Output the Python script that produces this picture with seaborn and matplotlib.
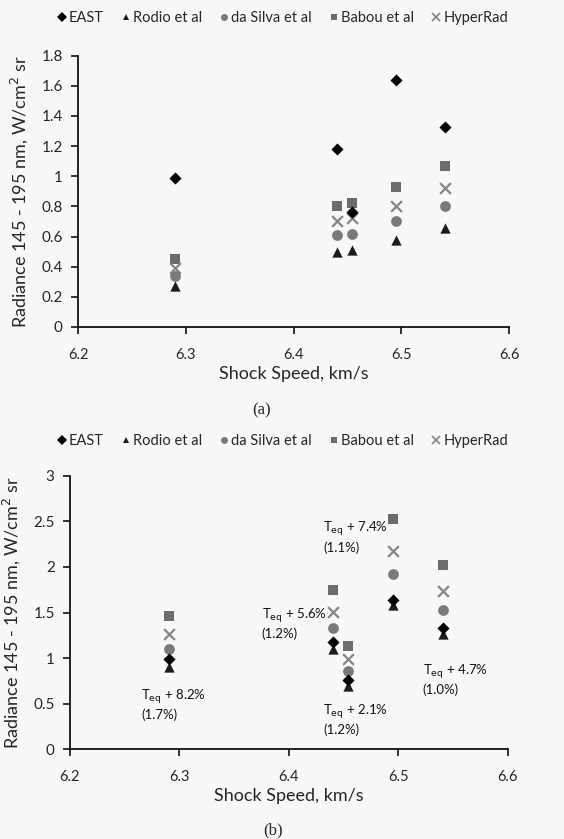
import matplotlib
matplotlib.use("Agg")
import matplotlib.pyplot as plt
import seaborn as sns
import pandas as pd
from matplotlib.lines import Line2D

sns.set_theme(style="white")
plt.rcParams['font.family'] = ['Lato', 'DejaVu Sans']

# ---------------- data ----------------
series = ["EAST", "Rodio et al", "da Silva et al", "Babou et al", "HyperRad"]
speed = [6.29, 6.44, 6.454, 6.495, 6.541]

a_east = [0.99, 1.18, 0.76, 1.64, 1.33]
a_rodio = [0.27, 0.50, 0.51, 0.58, 0.66]
a_dasilva = [0.34, 0.61, 0.62, 0.70, 0.80]
a_babou = [0.45, 0.80, 0.82, 0.93, 1.07]
a_hyper = [0.39, 0.70, 0.72, 0.80, 0.92]

b_east = [0.99, 1.18, 0.76, 1.64, 1.33]
b_rodio = [0.90, 1.10, 0.69, 1.58, 1.26]
b_dasilva = [1.10, 1.33, 0.86, 1.92, 1.53]
b_babou = [1.46, 1.75, 1.13, 2.52, 2.02]
b_hyper = [1.26, 1.51, 0.99, 2.17, 1.74]

annot_text = ["8.2%\n(1.7%)", "5.6%\n(1.2%)", "2.1%\n(1.2%)", "7.4%\n(1.1%)", "4.7%\n(1.0%)"]

x_ticks = [6.2, 6.3, 6.4, 6.5, 6.6]
a_yticks = [0, 0.2, 0.4, 0.6, 0.8, 1, 1.2, 1.4, 1.6, 1.8]
b_yticks = [0, 0.5, 1, 1.5, 2, 2.5, 3]

colors = {"EAST": "#000000", "Rodio et al": "#1c1c1c", "da Silva et al": "#7a7a7a",
          "Babou et al": "#6c6c6c", "HyperRad": "#858585"}
markers = {"EAST": "D", "Rodio et al": "^", "da Silva et al": "o",
           "Babou et al": "s", "HyperRad": "X"}
sizes = {"EAST": 38, "Rodio et al": 55, "da Silva et al": 60, "Babou et al": 55, "HyperRad": 60}


def long_df(vals):
    rows = []
    for s, v in zip(series, vals):
        for x, y in zip(speed, v):
            rows.append({"speed": x, "radiance": y, "series": s})
    return pd.DataFrame(rows)


df_a = long_df([a_east, a_rodio, a_dasilva, a_babou, a_hyper])
df_b = long_df([b_east, b_rodio, b_dasilva, b_babou, b_hyper])

bg = "#f8f8f6"
fig = plt.figure(figsize=(5.64, 8.39), dpi=100, facecolor=bg)
ax_a = fig.add_axes([0.1383, 0.6103, 0.7642, 0.3233])
ax_b = fig.add_axes([0.1241, 0.1069, 0.7766, 0.3261])

draw_order = ["Babou et al", "HyperRad", "da Silva et al", "Rodio et al", "EAST"]


def draw(ax, df, yticks, ymax, legend_y):
    ax.set_facecolor(bg)
    for s in draw_order:
        sub = df[df["series"] == s]
        m = markers[s]
        if m == "X":
            sns.scatterplot(data=sub, x="speed", y="radiance", ax=ax, marker="x",
                            color=colors[s], s=sizes[s], linewidth=1.6, legend=False, zorder=3)
        else:
            sns.scatterplot(data=sub, x="speed", y="radiance", ax=ax, marker=m,
                            color=colors[s], s=sizes[s], linewidth=0, legend=False, zorder=3)
    ax.set_xlim(6.2, 6.6)
    ax.set_ylim(0, ymax)
    ax.set_xticks(x_ticks)
    ax.set_xticklabels([f"{t:.1f}" for t in x_ticks], fontsize=10.5)
    ax.set_yticks(yticks)
    ax.set_yticklabels([("%g" % t) for t in yticks], fontsize=11)
    for sp in ["top", "right"]:
        ax.spines[sp].set_visible(False)
    for sp in ["left", "bottom"]:
        ax.spines[sp].set_color("#111111")
        ax.spines[sp].set_linewidth(1.3)
    ax.tick_params(axis="both", direction="out", length=5, width=1.2, color="#111111",
                   left=True, bottom=True, pad=6)
    ax.tick_params(axis="x", pad=10)
    ax.set_xlabel("Shock Speed, km/s", fontsize=13, labelpad=3)
    ax.set_ylabel("Radiance 145 - 195 nm, W/cm$^2$ sr", fontsize=13, labelpad=8)
    handles = []
    for s in series:
        m = "x" if markers[s] == "X" else markers[s]
        handles.append(Line2D([], [], linestyle="none", marker=m, color=colors[s],
                              markersize=5 if m != "x" else 6, markeredgewidth=1.2 if m == "x" else 0))
    ax.legend(handles, series, loc="center", bbox_to_anchor=(0.5, legend_y),
              bbox_transform=fig.transFigure, ncol=5, frameon=False, fontsize=10.5,
              handletextpad=0.1, columnspacing=1.1, handlelength=0.8)


draw(ax_a, df_a, a_yticks, 1.8, 1 - 18 / 839)
draw(ax_b, df_b, b_yticks, 3, 1 - 441 / 839)

# annotations on panel (b)
annot_pos = [(6.265, 0.67), (6.375, 1.56), (6.431, 0.51), (6.431, 2.51), (6.522, 0.95)]
for (tx, ty), t in zip(annot_pos, annot_text):
    ax_b.text(tx, ty, "T$_{\\mathrm{eq}}$ + " + t, fontsize=9.5, va="top", ha="left",
              linespacing=1.25, color="#111111")

fig.text(262 / 564, 1 - 410 / 839, "(a)", fontsize=12, ha="center", va="center",
         family="Liberation Serif")
fig.text(273 / 564, 1 - 830 / 839, "(b)", fontsize=12, ha="center", va="center",
         family="Liberation Serif")

fig.savefig("out.png", dpi=100, facecolor=bg)
